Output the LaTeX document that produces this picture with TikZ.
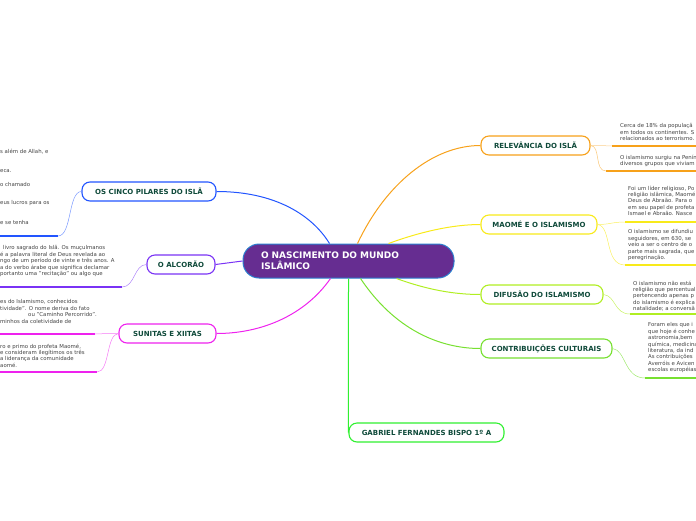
\documentclass[tikz,border=0pt]{standalone}
\usepackage{fontspec}
\setmainfont{DejaVu Sans}
\usetikzlibrary{positioning}

\definecolor{centrofill}{HTML}{662D91}
\definecolor{centroline}{HTML}{2B7FCF}
\definecolor{labelgreen}{HTML}{0F4A3A}
\definecolor{notegray}{HTML}{444444}
\definecolor{pilarblue}{HTML}{2255FF}
\definecolor{alcoraopurple}{HTML}{7A33F5}
\definecolor{sunitamagenta}{HTML}{EE22EE}
\definecolor{relevorange}{HTML}{F7A11A}
\definecolor{maomeyellow}{HTML}{F8EA1A}
\definecolor{difusaogreen}{HTML}{B0EE22}
\definecolor{contribgreen}{HTML}{77E030}
\definecolor{autorgreen}{HTML}{30F030}

\tikzset{
  topic/.style={draw, fill=white, rounded corners=8pt, line width=1.1pt,
    minimum height=19pt, inner sep=0pt, text=labelgreen,
    font=\bfseries\fontsize{7}{8}\selectfont},
  note/.style={inner sep=0pt, text=notegray, align=left,
    font=\fontsize{5.4}{6.4}\selectfont},
  branch/.style={line width=1pt},
  twig/.style={line width=0.5pt},
  underline/.style={line width=1.6pt},
}

\begin{document}
\begin{tikzpicture}[x=1pt,y=-1pt]
    \useasboundingbox (0,0) rectangle (696,520);

    % centre
    \node[draw=centroline, fill=centrofill, rounded corners=16pt, line width=1pt,
      minimum width=211pt, minimum height=34pt, inner sep=0pt, text width=175pt,
      align=left, text=white, font=\bfseries\fontsize{9}{11}\selectfont]
      (centro) at (348.5,261) {O NASCIMENTO DO MUNDO\\ISLÂMICO};

    % topics
    \node[topic, draw=pilarblue, minimum width=134pt] (pilares) at (149,191.5) {OS CINCO PILARES DO ISLÃ};
    \node[topic, draw=alcoraopurple, minimum width=68pt] (alcorao) at (181,264.5) {O ALCORÃO};
    \node[topic, draw=sunitamagenta, minimum width=97pt] (sunitas) at (167.5,333.5) {SUNITAS E XIITAS};
    \node[topic, draw=relevorange, minimum width=109pt] (relevancia) at (535.5,145.5) {RELEVÂNCIA DO ISLÃ};
    \node[topic, draw=maomeyellow, minimum width=116pt] (maome) at (539,224.5) {MAOMÉ E O ISLAMISMO};
    \node[topic, draw=difusaogreen, minimum width=122pt] (difusao) at (542,294.5) {DIFUSÃO DO ISLAMISMO};
    \node[topic, draw=contribgreen, minimum width=131pt] (contrib) at (546.5,348.5) {CONTRIBUIÇÕES CULTURAIS};
    \node[topic, draw=autorgreen, minimum width=155pt] (autor) at (426.5,432.5) {GABRIEL FERNANDES BISPO 1º A};

    % branches from the centre
    \draw[branch, pilarblue] ([xshift=-19pt]centro.north) .. controls (312,215) and (275,191.5) .. (pilares.east);
    \draw[branch, alcoraopurple] (centro.west) -- (alcorao.east);
    \draw[branch, sunitamagenta] ([xshift=-18pt]centro.south) .. controls (305,315) and (262,333.5) .. (sunitas.east);
    \draw[branch, relevorange] ([xshift=9pt]centro.north) .. controls (385,185) and (432,145.5) .. (relevancia.west);
    \draw[branch, maomeyellow] ([xshift=40pt]centro.north) .. controls (420,232) and (452,224.5) .. (maome.west);
    \draw[branch, difusaogreen] ([xshift=48pt]centro.south) .. controls (428,290) and (455,294.5) .. (difusao.west);
    \draw[branch, contribgreen] ([xshift=12pt]centro.south) .. controls (395,330) and (440,348.5) .. (contrib.west);
    \draw[branch, autorgreen] (centro.south) -- (autor.west);

    % ends of the sub branches
    \coordinate (pilares-u) at (58,236);
    \coordinate (alcorao-u) at (122,287);
    \coordinate (sunitas-u1) at (95,334);
    \coordinate (sunitas-u2) at (97,372);
    \coordinate (relevancia-u1) at (612,146);
    \coordinate (relevancia-u2) at (606,171);
    \coordinate (maome-u1) at (625,222);
    \coordinate (maome-u2) at (625,265);
    \coordinate (difusao-u) at (630,314);
    \coordinate (contrib-u) at (645,378);

    \draw[twig, pilarblue!60] (pilares.west) .. controls (68,191.5) and (72,236) .. (pilares-u);
    \draw[underline, pilarblue] (pilares-u) -- (0,236);
    \draw[twig, alcoraopurple!60] (alcorao.west) .. controls (134,264.5) and (135,287) .. (alcorao-u);
    \draw[underline, alcoraopurple] (alcorao-u) -- (0,287);
    \draw[twig, sunitamagenta!60] (sunitas.west) .. controls (108,333.5) .. (sunitas-u1);
    \draw[underline, sunitamagenta] (sunitas-u1) -- (0,334);
    \draw[twig, sunitamagenta!60] (sunitas.west) .. controls (106,334) and (110,372) .. (sunitas-u2);
    \draw[underline, sunitamagenta] (sunitas-u2) -- (0,372);
    \draw[twig, relevorange!50] (relevancia.east) .. controls (600,145.5) .. (relevancia-u1);
    \draw[underline, relevorange] (relevancia-u1) -- (696,146);
    \draw[twig, relevorange!60] (relevancia.east) .. controls (601,146) and (594,171) .. (relevancia-u2);
    \draw[underline, relevorange] (relevancia-u2) -- (696,171);
    \draw[twig, maomeyellow!70] (maome.east) .. controls (610,224.5) and (612,222) .. (maome-u1);
    \draw[underline, maomeyellow] (maome-u1) -- (696,222);
    \draw[twig, maomeyellow!70] (maome.east) .. controls (612,226) and (604,265) .. (maome-u2);
    \draw[underline, maomeyellow] (maome-u2) -- (696,265);
    \draw[twig, difusaogreen!70] (difusao.east) .. controls (616,296) and (614,314) .. (difusao-u);
    \draw[underline, difusaogreen] (difusao-u) -- (696,314);
    \draw[twig, contribgreen!70] (contrib.east) .. controls (626,350) and (624,378) .. (contrib-u);
    \draw[underline, contribgreen] (contrib-u) -- (696,378);

    % texts cut by the edges
    \foreach \i/\y/\t in {1/152/{s além de Allah, e}, 2/171/{eca.}, 3/184/{o chamado},
                          4/203/{eus lucros para os}, 5/222/{e se tenha}} {
      \node[note, anchor=west] (pilar-\i) at (0,\y) {\t};
    }
    \node[note, anchor=north west] (alcorao-a) at (0,245.5) {\hspace*{3pt}livro sagrado do Islã. Os muçulmanos\\
      é a palavra literal de Deus revelada ao\\ngo de um período de vinte e três anos. A\\
      a do verbo árabe que significa declamar\\portanto uma "recitação" ou algo que};
    \node[note, anchor=north west] (sunitas-a) at (0,299.5) {es do Islamismo, conhecidos\\
      tividade". O nome deriva do fato\\\hspace*{28pt}ou "Caminho Percorrido".\\minhos da coletividade de};
    \node[note, anchor=north west] (sunitas-b) at (0,343.5) {ro e primo do profeta Maomé,\\
      e consideram ilegítimos os três\\a liderança da comunidade\\aomé.};
    \node[note, anchor=north west] (relevancia-a) at (620,123.5) {Cerca de 18\% da populaçã\\
      em todos os continentes. S\\relacionados ao terrorismo.};
    \node[note, anchor=north west] (relevancia-b) at (620,154.5) {O islamismo surgiu na Penín\\diversos grupos que viviam};
    \node[note, anchor=north west] (maome-a) at (628,185.5) {Foi um líder religioso, Po\\religião islâmica, Maomé\\
      Deus de Abraão. Para o\\em seu papel de profeta\\Ismael e Abraão. Nasce};
    \node[note, anchor=north west] (maome-b) at (628,229.5) {O islamismo se difundiu\\seguidores, em 630, se\\
      veio a ser o centro de o\\parte mais sagrada, que\\peregrinação.};
    \node[note, anchor=north west] (difusao-a) at (633,280.5) {O islamismo não está\\religião que percentual\\
      pertencendo apenas p\\do islamismo é explica\\natalidade; a conversã};
    \node[note, anchor=north west] (contrib-a) at (648,322.5) {Foram eles que i\\que hoje é conhe\\astronomia,bem\\
      química, medicina\\literatura, da ind\\As contribuições\\Averróis e Avicen\\escolas européias};
  \end{tikzpicture}
\end{document}
